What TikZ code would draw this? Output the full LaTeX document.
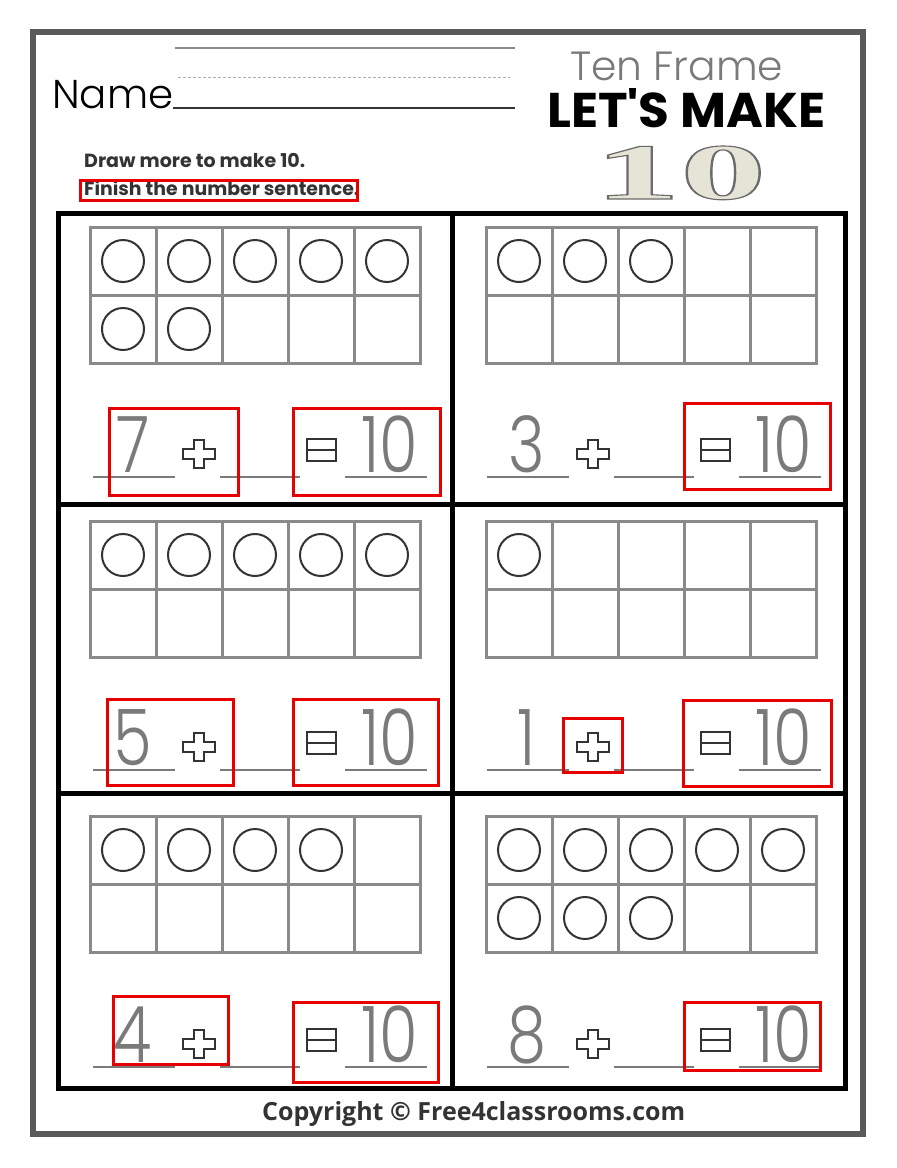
\documentclass[tikz,border=0pt]{standalone}
\usepackage{fontspec}
\usepackage{graphicx}
\usepackage{xcolor}
\usepackage{tikz}

\newfontfamily\namefont{Poppins Light}
\newfontfamily\plainfont{Poppins}
\newfontfamily\slabfont[FakeBold=1.4]{Liberation Serif Bold}
\newfontfamily\footfont{Open Sans}

\definecolor{pagegray}{HTML}{5A5A5A}
\definecolor{linegray}{HTML}{8A8A8A}
\definecolor{inkgray}{HTML}{333333}
\definecolor{tracegray}{HTML}{7A7A7A}
\definecolor{markred}{HTML}{E60000}
\definecolor{logobeige}{HTML}{E6E4D6}

\tikzset{
  frameline/.style={draw=linegray, line width=3pt},
  counter/.style={draw=inkgray, line width=2pt},
  blankline/.style={draw=tracegray, line width=2.5pt},
  redbox/.style={draw=markred, line width=3pt},
  symbol/.style={draw=inkgray, fill=white, line width=1.8pt, line join=miter},
  tracedigit/.style={text=tracegray, font=\namefont\fontsize{78}{78}\selectfont, inner sep=0pt, anchor=base},
}

% ten frame: left x, top y, number of counters
\newcommand{\tenframe}[3]{%
  \draw[frameline] (#1,#2) rectangle ++(330,136);
  \foreach \i in {1,...,4} \draw[frameline] (#1+66*\i,#2) -- ++(0,136);
  \draw[frameline] (#1,#2+68) -- ++(330,0);
  \foreach \k [evaluate=\k as \cx using {#1+33+66*mod(\k-1,5)},
               evaluate=\k as \cy using {#2+34+68*int((\k-1)/5)}] in {1,...,#3}
    \draw[counter] (\cx,\cy) circle [radius=21pt];
}

% number sentence: panel left x, line y, digit, name
\newcommand{\sentence}[4]{%
  \coordinate (#4-a) at (#1+35,#2);  \coordinate (#4-b) at (#1+117,#2);
  \coordinate (#4-c) at (#1+162,#2); \coordinate (#4-d) at (#1+242,#2);
  \coordinate (#4-e) at (#1+287,#2); \coordinate (#4-f) at (#1+369,#2);
  \draw[blankline] (#4-a) -- (#4-b);
  \draw[blankline] (#4-c) -- (#4-d);
  \draw[blankline] (#4-e) -- (#4-f);
  \node[tracedigit] (#4-n) at (#1+75,#2-5) {\scalebox{0.8}[1]{#3}};
  \node[tracedigit] (#4-t) at (#1+332,#2-5) {\scalebox{0.8}[1]{10}};
  % plus
  \draw[symbol] (#1+136,#2-37) -- (#1+146,#2-37) -- (#1+146,#2-28) -- (#1+157,#2-28)
    -- (#1+157,#2-18) -- (#1+146,#2-18) -- (#1+146,#2-9) -- (#1+136,#2-9)
    -- (#1+136,#2-18) -- (#1+125,#2-18) -- (#1+125,#2-28) -- (#1+136,#2-28) -- cycle;
  % equals
  \draw[symbol] (#1+249,#2-38) rectangle (#1+278,#2-16);
  \draw[symbol] (#1+249,#2-27) -- (#1+278,#2-27);
}

\begin{document}
\begin{tikzpicture}[x=1pt, y=-1pt]
  \useasboundingbox (0,0) rectangle (897,1168);
  \fill[white] (0,0) rectangle (897,1168);

  % page border
  \draw[pagegray, line width=6pt] (33,32) rectangle (863,1134);

  % header
  \node[anchor=base west, inner sep=0pt, text=black] (name) at (52,108)
    {\resizebox{121pt}{!}{\namefont Name}};
  \draw[linegray, line width=2pt] (175,48) -- (515,48);
  \draw[linegray!70, line width=1pt, dash pattern=on 3pt off 2pt] (178,77) -- (510,77);
  \draw[inkgray, line width=2.5pt] (name.base east) -- (515,108);

  \node[anchor=base west, inner sep=0pt, text=inkgray] (task1) at (84,167)
    {\resizebox{221pt}{!}{\plainfont\bfseries Draw more to make 10.}};
  \node[anchor=base west, inner sep=0pt, text=inkgray] (task2) at (84,195)
    {\resizebox{275pt}{!}{\plainfont\bfseries Finish the number sentence.}};

  \node[anchor=base west, inner sep=0pt, text=tracegray] (title) at (570,80)
    {\resizebox{213pt}{!}{\namefont Ten Frame}};
  \node[anchor=base west, inner sep=0pt, text=black] (make) at (547,127)
    {\resizebox{278pt}{39pt}{\plainfont\bfseries LET'S MAKE}};
  \node[anchor=base west, inner sep=0pt] (ten) at (594,199)
    {\resizebox{172pt}{53pt}{\slabfont\color{logobeige}\special{pdf:literal direct 0.42 0.42 0.42 RG}10}};

  % panels
  \draw[black, line width=5pt] (58,213) rectangle (845,1088);
  \draw[black, line width=5pt] (452,213) -- (452,1088);
  \draw[black, line width=5pt] (58,504) -- (845,504);
  \draw[black, line width=5pt] (58,793) -- (845,793);

  \tenframe{90}{227}{7}
  \tenframe{486}{227}{3}
  \tenframe{90}{521}{5}
  \tenframe{486}{521}{1}
  \tenframe{90}{816}{4}
  \tenframe{486}{816}{8}

  \sentence{58}{477}{7}{s1}
  \sentence{452}{477}{3}{s2}
  \sentence{58}{770}{5}{s3}
  \sentence{452}{770}{1}{s4}
  \sentence{58}{1067}{4}{s5}
  \sentence{452}{1067}{8}{s6}

  % red marks
  \draw[redbox] (80,180) rectangle (357,200);
  \draw[redbox] (109,408) rectangle (238,495);
  \draw[redbox] (293,408) rectangle (440,495);
  \draw[redbox] (684,403) rectangle (830,489);
  \draw[redbox] (107,699) rectangle (233,785);
  \draw[redbox] (293,699) rectangle (438,785);
  \draw[redbox] (563,718) rectangle (622,772);
  \draw[redbox] (683,700) rectangle (831,786);
  \draw[redbox] (113,996) rectangle (228,1064);
  \draw[redbox] (293,1002) rectangle (438,1082);
  \draw[redbox] (684,1002) rectangle (820,1070);

  % footer
  \node[anchor=base west, inner sep=0pt, text=inkgray] (copy) at (262,1120)
    {\resizebox{423pt}{!}{\footfont\bfseries Copyright © Free4classrooms.com}};
\end{tikzpicture}
\end{document}
